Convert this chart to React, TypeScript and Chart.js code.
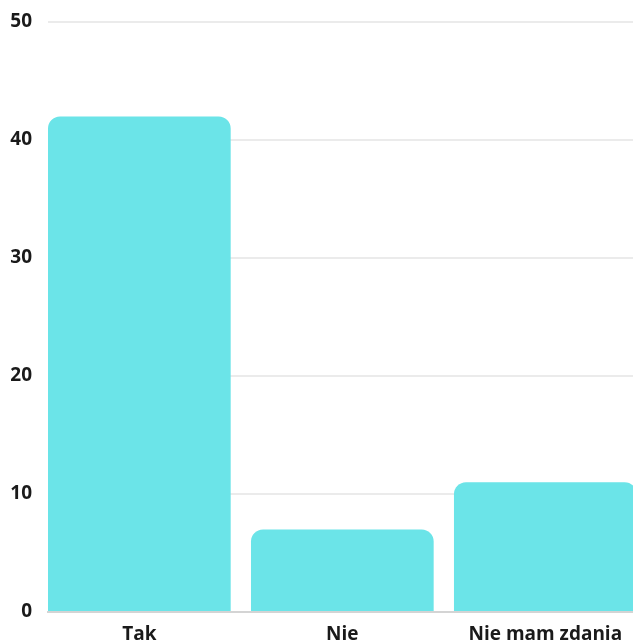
import React, { useEffect, useRef } from "react";
import { Chart, registerables } from "chart.js";

Chart.register(...registerables);

const categories: string[] = ["Tak", "Nie", "Nie mam zdania"];
const values: number[] = [42, 7, 11];
const yTicks: number[] = [0, 10, 20, 30, 40, 50];

export default function App() {
  const ref = useRef<HTMLCanvasElement | null>(null);

  useEffect(() => {
    if (!ref.current) return;
    const font = { family: "'Open Sans', 'Noto Sans', sans-serif", size: 19, weight: "bold" as const };
    const chart = new Chart(ref.current, {
      type: "bar",
      data: {
        datasets: [
          {
            data: categories.map((c, i) => ({ x: i, y: values[i] })),
            backgroundColor: "#6be4e8",
            borderRadius: 12,
            borderSkipped: "bottom",
            categoryPercentage: 1,
            barPercentage: 0.9,
          },
        ],
      },
      options: {
        responsive: false,
        animation: false,
        layout: { padding: { top: 22, left: 0, right: 0, bottom: 0 } },
        plugins: { legend: { display: false }, tooltip: { enabled: false } },
        scales: {
          x: {
            type: "linear",
            offset: false,
            min: -0.45,
            max: 2.432,
            afterBuildTicks: (scale: any) => {
              scale.ticks = categories.map((_, i) => ({ value: i }));
            },
            afterFit: (scale: any) => {
              scale.height = 31;
              scale.paddingLeft = 0;
              scale.paddingRight = 0;
            },
            ticks: {
              autoSkip: false,
              maxRotation: 0,
              padding: 11,
              color: "#1a1a1a",
              font,
              callback: (v: any) => categories[v as number] ?? "",
            },
            grid: { display: false, drawTicks: false, offset: false },
            border: { display: true, color: "#d4d4d4", width: 2 },
          },
          y: {
            min: 0,
            max: 50,
            afterBuildTicks: (scale: any) => {
              scale.ticks = yTicks.map((v) => ({ value: v }));
            },
            afterFit: (scale: any) => {
              scale.width = 48;
              scale.paddingTop = 0;
              scale.paddingBottom = 0;
            },
            ticks: { padding: 16, color: "#1a1a1a", font },
            grid: { color: "#ebebeb", lineWidth: 2, drawTicks: false },
            border: { display: false },
          },
        },
      },
    });
    return () => chart.destroy();
  }, []);

  return (
    <div style={{ position: "fixed", left: 0, top: 0, width: 633, height: 643, background: "#fff", overflow: "hidden" }}>
      <canvas ref={ref} width={633} height={643} style={{ width: 633, height: 643, display: "block" }} />
    </div>
  );
}
